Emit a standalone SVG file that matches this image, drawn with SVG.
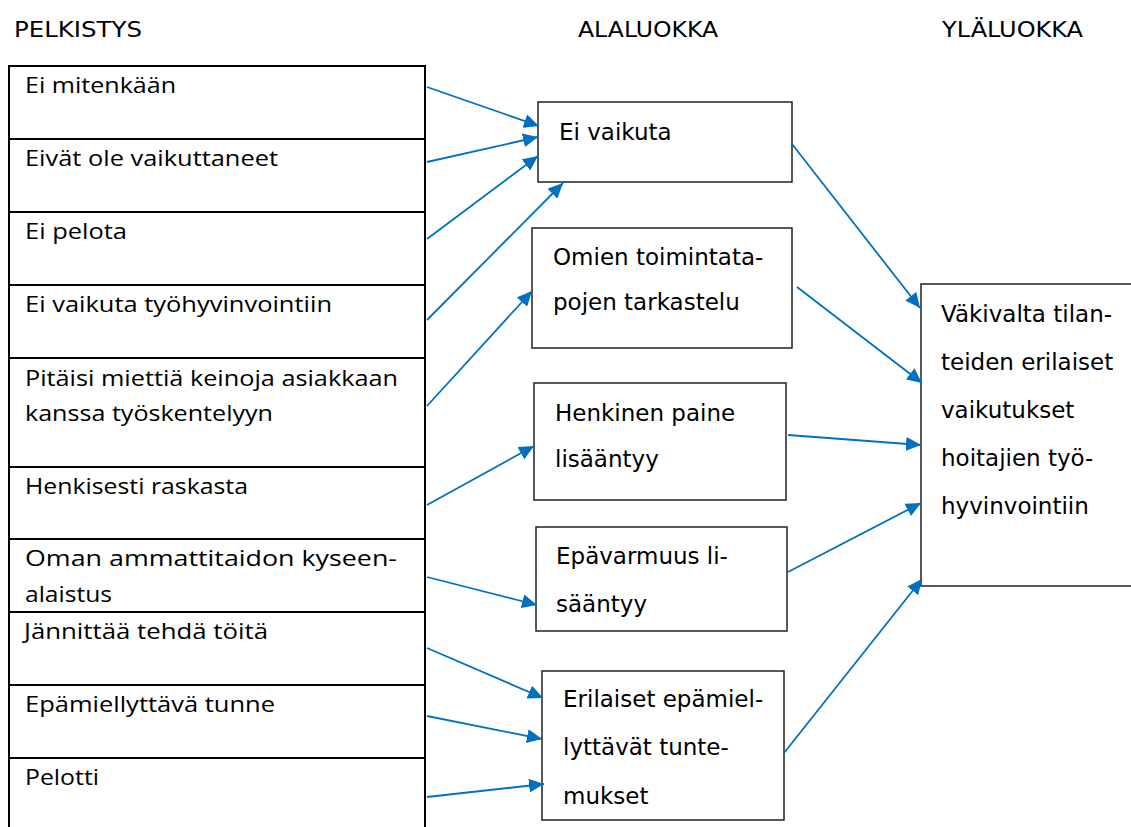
<svg xmlns="http://www.w3.org/2000/svg" width="1131" height="827" viewBox="0 0 1131 827">
<style>
.hdr{font-family:"DejaVu Sans Condensed","DejaVu Sans",sans-serif;font-size:21px;fill:#000}
.lt{font-family:"Open Sans","Liberation Sans",Arial,sans-serif;font-size:22px;fill:#000}
.mt{font-family:"DejaVu Sans",Verdana,sans-serif;font-size:23px;fill:#000}
.lb{fill:#fff;stroke:#000;stroke-width:2}
.mb{fill:#fff;stroke:#222;stroke-width:1.5}
.cn{stroke:#0070C0;stroke-width:1.8;fill:none;marker-end:url(#ah)}
</style>
<defs>
<marker id="ah" markerUnits="userSpaceOnUse" markerWidth="16" markerHeight="14" refX="15" refY="7" orient="auto">
<path d="M0,0 L15,7 L0,14 z" fill="#0070C0"/>
</marker>
</defs>
<rect width="1131" height="827" fill="#fff"/>
<g id="headers">
<text class="hdr" x="14" y="37" textLength="128" lengthAdjust="spacingAndGlyphs">PELKISTYS</text>
<text class="hdr" x="578" y="37" textLength="140" lengthAdjust="spacingAndGlyphs">ALALUOKKA</text>
<text class="hdr" x="942" y="37" textLength="141" lengthAdjust="spacingAndGlyphs">YLÄLUOKKA</text>
</g>
<g id="l1"><rect class="lb" x="9" y="66" width="416" height="73"/><text class="lt" x="25" y="93" textLength="151" lengthAdjust="spacingAndGlyphs">Ei mitenkään</text></g>
<g id="l2"><rect class="lb" x="9" y="139" width="416" height="73"/><text class="lt" x="25" y="166" textLength="253" lengthAdjust="spacingAndGlyphs">Eivät ole vaikuttaneet</text></g>
<g id="l3"><rect class="lb" x="9" y="212" width="416" height="73"/><text class="lt" x="25" y="239" textLength="102" lengthAdjust="spacingAndGlyphs">Ei pelota</text></g>
<g id="l4"><rect class="lb" x="9" y="285" width="416" height="73"/><text class="lt" x="25" y="312" textLength="307" lengthAdjust="spacingAndGlyphs">Ei vaikuta työhyvinvointiin</text></g>
<g id="l5"><rect class="lb" x="9" y="358" width="416" height="109"/><text class="lt" x="25" y="386" textLength="373" lengthAdjust="spacingAndGlyphs">Pitäisi miettiä keinoja asiakkaan</text><text class="lt" x="25" y="421" textLength="248" lengthAdjust="spacingAndGlyphs">kanssa työskentelyyn</text></g>
<g id="l6"><rect class="lb" x="9" y="467" width="416" height="72"/><text class="lt" x="25" y="494" textLength="223" lengthAdjust="spacingAndGlyphs">Henkisesti raskasta</text></g>
<g id="l7"><rect class="lb" x="9" y="539" width="416" height="73"/><text class="lt" x="25" y="566" textLength="372" lengthAdjust="spacingAndGlyphs">Oman ammattitaidon kyseen-</text><text class="lt" x="25" y="602" textLength="87" lengthAdjust="spacingAndGlyphs">alaistus</text></g>
<g id="l8"><rect class="lb" x="9" y="612" width="416" height="73"/><text class="lt" x="24" y="639" textLength="244" lengthAdjust="spacingAndGlyphs">Jännittää tehdä töitä</text></g>
<g id="l9"><rect class="lb" x="9" y="685" width="416" height="73"/><text class="lt" x="25" y="712" textLength="250" lengthAdjust="spacingAndGlyphs">Epämiellyttävä tunne</text></g>
<g id="l10"><rect class="lb" x="9" y="758" width="416" height="80"/><text class="lt" x="25" y="785" textLength="74" lengthAdjust="spacingAndGlyphs">Pelotti</text></g>
<g id="m1"><rect class="mb" x="538" y="102" width="254" height="80"/><text class="mt" x="559" y="140">Ei vaikuta</text></g>
<g id="m2"><rect class="mb" x="532" y="228" width="260" height="120"/><text class="mt" x="553" y="265">Omien toimintata-</text><text class="mt" x="553" y="310">pojen tarkastelu</text></g>
<g id="m3"><rect class="mb" x="534" y="383" width="252" height="117"/><text class="mt" x="555" y="421">Henkinen paine</text><text class="mt" x="555" y="467">lisääntyy</text></g>
<g id="m4"><rect class="mb" x="536" y="527" width="251" height="104"/><text class="mt" x="556" y="564">Epävarmuus li-</text><text class="mt" x="556" y="612">sääntyy</text></g>
<g id="m5"><rect class="mb" x="542" y="671" width="242" height="149"/><text class="mt" x="563" y="707">Erilaiset epämiel-</text><text class="mt" x="563" y="755">lyttävät tunte-</text><text class="mt" x="563" y="804">mukset</text></g>
<g id="r1"><rect class="mb" x="921" y="284" width="230" height="302"/><text class="mt" x="941" y="322">Väkivalta tilan-</text><text class="mt" x="941" y="370">teiden erilaiset</text><text class="mt" x="941" y="418">vaikutukset</text><text class="mt" x="941" y="466">hoitajien työ-</text><text class="mt" x="941" y="514">hyvinvointiin</text></g>
<g id="connectors">
<line class="cn" x1="427" y1="87" x2="539" y2="126"/>
<line class="cn" x1="427" y1="162" x2="538" y2="137"/>
<line class="cn" x1="427" y1="239" x2="538" y2="156"/>
<line class="cn" x1="427" y1="320" x2="563" y2="183"/>
<line class="cn" x1="427" y1="406" x2="532" y2="291"/>
<line class="cn" x1="427" y1="505" x2="534" y2="446"/>
<line class="cn" x1="427" y1="577" x2="537" y2="605"/>
<line class="cn" x1="427" y1="648" x2="543" y2="698"/>
<line class="cn" x1="427" y1="716" x2="542" y2="739"/>
<line class="cn" x1="427" y1="797" x2="544" y2="784"/>
<line class="cn" x1="792" y1="144" x2="920" y2="308"/>
<line class="cn" x1="797" y1="287" x2="922" y2="383"/>
<line class="cn" x1="788" y1="435" x2="921" y2="445"/>
<line class="cn" x1="788" y1="572" x2="921" y2="503"/>
<line class="cn" x1="784" y1="753" x2="922" y2="579"/>
</g>
</svg>
